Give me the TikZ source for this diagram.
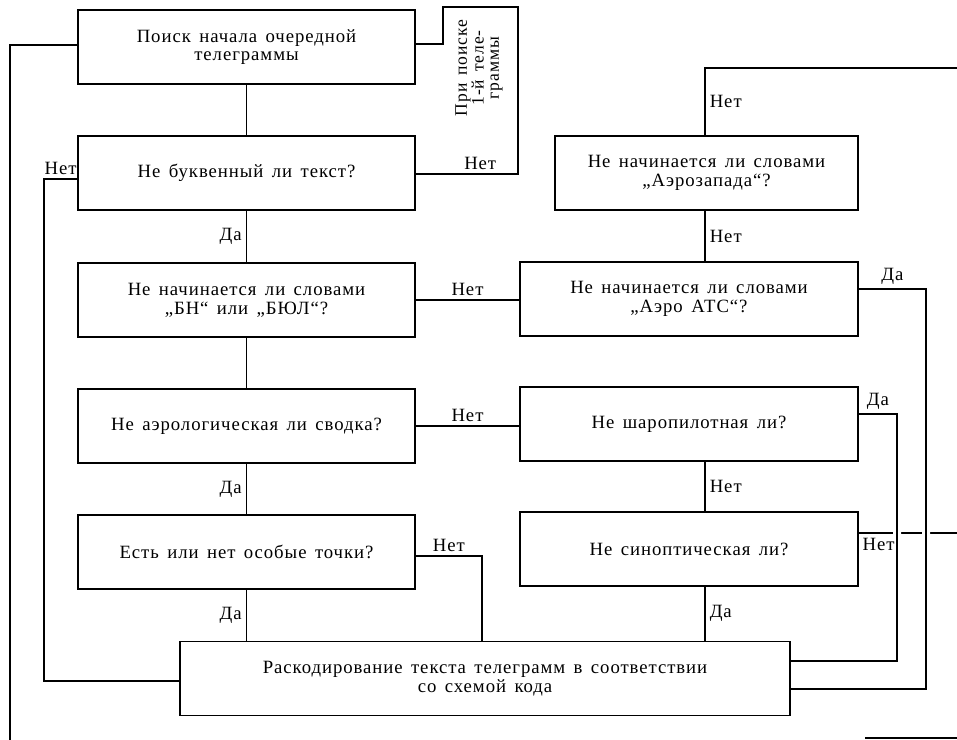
\documentclass[tikz,border=0pt]{standalone}
\usepackage{fontspec}
\setmainfont{Liberation Serif}[LetterSpace=5, WordSpace=1.5]
\newcommand\blktext{\fontsize{16}{16}\selectfont}
\newcommand\hinttext{\fontsize{15}{13}\selectfont}

\begin{document}
\begin{tikzpicture}[x=0.03cm, y=-0.03cm, line width=1.5pt, font=\blktext,
    blok/.style={draw, align=center, minimum height=2.22cm, inner sep=2pt},
    lblok/.style={blok, minimum width=10.11cm},
    rblok/.style={blok, minimum width=10.14cm}]
  \useasboundingbox (0,0) rectangle (957,740);
  % left column
  \node[lblok] (poisk) at (246.5,47) {Поиск начала очередной\\телеграммы};
  \node[lblok] (bukv) at (246.5,173) {Не буквенный ли текст?};
  \node[lblok] (bnbul) at (246.5,300) {Не начинается ли словами\\„БН“ или „БЮЛ“?};
  \node[lblok] (aerol) at (246.5,426) {Не аэрологическая ли сводка?};
  \node[lblok] (osob) at (246.5,552) {Есть или нет особые точки?};
  \node[blok, minimum width=18.3cm] (rask) at (485,678.5) {Раскодирование текста телеграмм в соответствии\\со схемой кода};
  % right column
  \node[blok, minimum width=9.09cm] (aerozap) at (706.5,173) {Не начинается ли словами\\„Аэрозапада“?};
  \node[rblok] (aerats) at (689,299) {Не начинается ли словами\\„Аэро АТС“?};
  \node[rblok] (sharo) at (689,424) {Не шаропилотная ли?};
  \node[rblok] (sinop) at (689,549) {Не синоптическая ли?};
  \node[rotate=90, align=center, font=\hinttext] (hint) at (479,68) {При поиске\\1-й теле-\\граммы};

  % main chain
  \draw (poisk) -- (bukv);
  \draw (bukv) -- node[left] {Да} (bnbul);
  \draw (bnbul) -- (aerol);
  \draw (aerol) -- node[left] {Да} (osob);
  \draw (osob.south) -- node[left] {Да} (osob.south |- rask.north);
  \draw (bnbul.east) -- node[above] {Нет} (bnbul.east -| aerats.west);
  \draw (aerol.east) -- node[above] {Нет} (aerol.east -| sharo.west);
  \coordinate (k5) at (482,556);
  \draw (osob.east |- k5) -- node[above] {Нет} (k5) -- (k5 |- rask.north);

  % right chain
  \coordinate (ax) at (705,68);
  \coordinate (t1) at (957,68);
  \draw (t1) -- (ax) -- node[right] {Нет} (ax |- aerozap.north);
  \draw (aerozap.south -| ax) -- node[right] {Нет} (aerats.north -| ax);
  \draw (sharo.south -| ax) -- node[right] {Нет} (sinop.north -| ax);
  \draw (sinop.south -| ax) -- node[right] {Да} (rask.north -| ax);

  % loops on the right
  \coordinate (s1) at (957,533);
  \draw (sinop.east |- s1) -- node[below, pos=0.2] {Нет} (s1);
  \fill[white] (893,527) rectangle (901,539) (922,527) rectangle (930,539);
  \coordinate (d1) at (926,289);
  \coordinate (d2) at (926,689);
  \draw (aerats.east |- d1) -- node[above] {Да} (d1) -- (d2) -- (d2 -| rask.east);
  \coordinate (c1) at (897,414);
  \coordinate (c2) at (897,661);
  \draw (sharo.east |- c1) -- node[above] {Да} (c1) -- (c2) -- (c2 -| rask.east);
  \coordinate (e1) at (865,738);
  \draw (e1) -- (e1 -| t1);

  % loops on the left
  \coordinate (l1) at (44,179);
  \coordinate (l2) at (44,681);
  \draw (rask.west |- l2) -- (l2) -- (l1) -- node[above] {Нет} (l1 -| bukv.west);
  \coordinate (o1) at (10,740);
  \coordinate (o2) at (10,45);
  \draw (o1) -- (o2) -- (o2 -| poisk.west);

  % first telegram bracket
  \coordinate (r1) at (518,174);
  \coordinate (r2) at (518,7);
  \coordinate (r3) at (443,7);
  \coordinate (r4) at (443,44);
  \draw (bukv.east |- r1) -- node[above, pos=0.63] {Нет} (r1) -- (r2) -- (r3) -- (r4) -- (r4 -| poisk.east);
\end{tikzpicture}
\end{document}
